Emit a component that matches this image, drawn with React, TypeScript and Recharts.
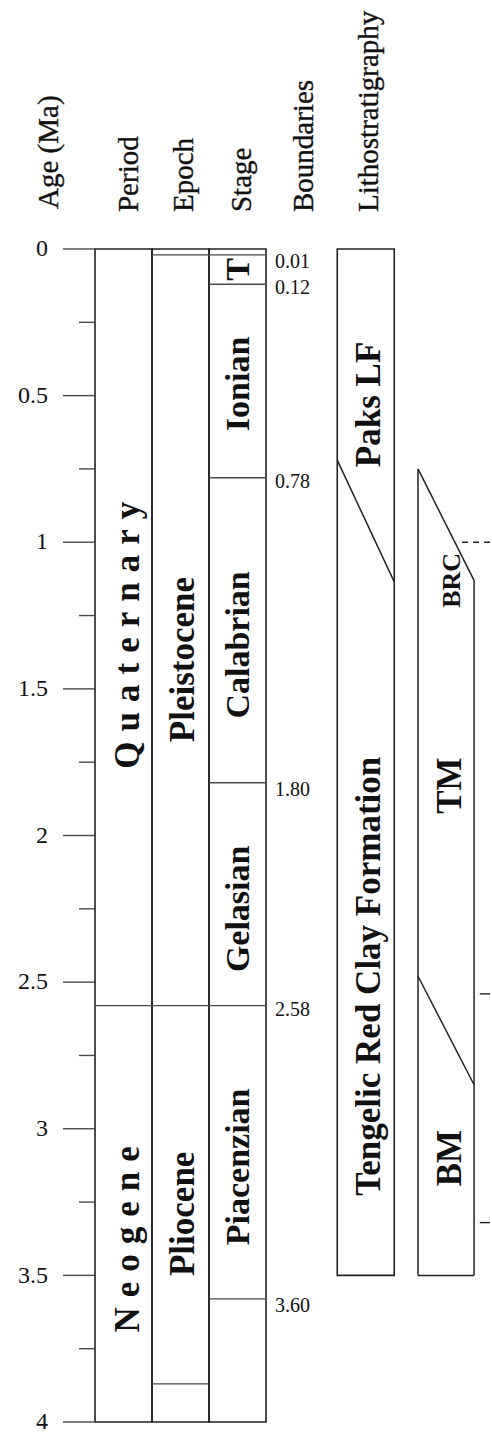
import { ComposedChart, XAxis, YAxis, ReferenceArea, ReferenceLine, Scatter } from 'recharts'

// ages in Ma
const AGE_TICKS = [0, 0.25, 0.5, 0.75, 1, 1.25, 1.5, 1.75, 2, 2.25, 2.5, 2.75, 3, 3.25, 3.5, 3.75, 4]

const PERIODS = ['Quaternary', 'Neogene']
const PERIOD_MID = [1.3, 3.36]
const PERIOD_BOUNDS = [2.58]

const EPOCHS = ['Pleistocene', 'Pliocene']
const EPOCH_MID = [1.4, 3.29]
const EPOCH_BOUNDS = [0.02, 2.58, 3.87]

const STAGES = ['T', 'Ionian', 'Calabrian', 'Gelasian', 'Piacenzian']
const STAGE_MID = [0.07, 0.46, 1.35, 2.25, 3.13]
const STAGE_BOUNDS = [0.02, 0.12, 0.78, 1.82, 2.58, 3.58]

const BOUNDARY_TEXT = ['0.01', '0.12', '0.78', '1.80', '2.58', '3.60']
const BOUNDARY_AT = [0.04, 0.13, 0.79, 1.84, 2.59, 3.6]

const FORMATIONS = ['Paks LF', 'Tengelic Red Clay Formation']
const FORMATION_MID = [0.53, 2.48]
const FORMATION_CONTACT = [0.72, 1.135] // age at left edge, age at right edge
const LITHO_BASE = 3.5

const MEMBERS = ['BRC', 'TM', 'BM']
const MEMBER_MID = [1.13, 1.83, 3.1]
const MEMBER_TOP = [0.75, 1.13]
const MEMBER_CONTACT = [2.48, 2.85]

const DASH_AT = 1.0
const MARK_AT = [2.54, 3.32]

const HEADERS = ['Period', 'Epoch', 'Stage', 'Boundaries', 'Lithostratigraphy']

// layout (column units on the hidden x axis)
const W = 492
const H = 1432
const X_MAX = 6.95
const COL = {
  period: [0, 1],
  epoch: [1, 2],
  stage: [2, 3],
  litho: [4.25, 5.25],
  member: [5.667, 6.65],
}
const HEADER_X = [0.58, 1.54, 2.56, 3.65, 4.79]
const BOUNDARY_X = 3.16

const FONT = "'Liberation Serif', 'Times New Roman', serif"
const INK = '#111'
const LINE = '#222'
const THIN = '#4a4a4a'

const HeaderTick = (props: any) => {
  const { x, y, payload } = props
  const i = HEADER_X.indexOf(payload.value)
  const ty = y - 37
  return (
    <text x={x} y={ty} transform={`rotate(-90 ${x} ${ty})`} dy="0.35em" textAnchor="start"
      fontFamily={FONT} fontSize={29} fill={INK} stroke={INK} strokeWidth={0.35}>
      {HEADERS[i]}
    </text>
  )
}

const AgeTick = (props: any) => {
  const { x, y, payload } = props
  const v = payload.value
  const major = Math.abs(v * 2 - Math.round(v * 2)) < 1e-6
  return (
    <g>
      <line x1={x - (major ? 32 : 16)} x2={x} y1={y} y2={y} stroke={THIN} strokeWidth={1.4} />
      {major && (
        <text x={x - 47} y={y} dy="0.3em" textAnchor="end" fontFamily={FONT} fontSize={24} fill={INK}>
          {v}
        </text>
      )}
    </g>
  )
}

const AgeLabel = (props: any) => {
  const vb = props.viewBox
  const x = vb.x + 48
  const y = vb.y - 40
  return (
    <text x={x} y={y} transform={`rotate(-90 ${x} ${y})`} dy="0.35em" textAnchor="start"
      fontFamily={FONT} fontSize={29} fill={INK} stroke={INK} strokeWidth={0.35}>
      Age (Ma)
    </text>
  )
}

// rotated unit names
const vLabel = (size: number, spacing = 0) => (props: any) => {
  const { cx, cy, payload } = props
  return (
    <text x={cx} y={cy} transform={`rotate(-90 ${cx} ${cy})`} dy="0.35em" textAnchor="middle"
      fontFamily={FONT} fontSize={size} fontWeight="bold" letterSpacing={spacing} fill={INK}>
      {payload.t}
    </text>
  )
}

const hLabel = (props: any) => {
  const { cx, cy, payload } = props
  return (
    <text x={cx} y={cy} dy="0.35em" textAnchor="start" fontFamily={FONT} fontSize={20} fill={INK}>
      {payload.t}
    </text>
  )
}

const mid = (c: number[]) => (c[0] + c[1]) / 2

const periodPts = PERIODS.map((t, i) => ({ x: mid(COL.period) + 0.05, y: PERIOD_MID[i], t }))
const epochPts = EPOCHS.map((t, i) => ({ x: mid(COL.epoch) + 0.02, y: EPOCH_MID[i], t }))
const stagePts = STAGES.map((t, i) => ({ x: mid(COL.stage), y: STAGE_MID[i], t }))
const formationPts = FORMATIONS.map((t, i) => ({ x: mid(COL.litho) + 0.04, y: FORMATION_MID[i], t }))
const memberPts = MEMBERS.slice(1).map((t, i) => ({ x: mid(COL.member) + 0.04, y: MEMBER_MID[i + 1], t }))
const brcPts = [{ x: mid(COL.member) + 0.08, y: MEMBER_MID[0], t: MEMBERS[0] }]
const boundaryPts = BOUNDARY_TEXT.map((t, i) => ({ x: BOUNDARY_X, y: BOUNDARY_AT[i], t }))

const hLine = (key: string, x1: number, x2: number, age: number, color = THIN, dash?: string) => (
  <ReferenceLine key={key} segment={[{ x: x1, y: age }, { x: x2, y: age }]}
    stroke={color} strokeWidth={1.4} strokeDasharray={dash} ifOverflow="visible" />
)

const seg = (key: string, x1: number, y1: number, x2: number, y2: number) => (
  <ReferenceLine key={key} segment={[{ x: x1, y: y1 }, { x: x2, y: y2 }]}
    stroke={LINE} strokeWidth={1.5} ifOverflow="visible" />
)

export default function App() {
  return (
    <div style={{ position: 'absolute', left: 0, top: 0, width: W, height: H, background: '#fff' }}>
      <ComposedChart width={W} height={H} margin={{ top: 0, right: W - 95 - 57 * X_MAX, left: 0, bottom: 10 }}>
        <XAxis xAxisId={0} type="number" dataKey="x" orientation="top" domain={[0, X_MAX]} height={249}
          ticks={HEADER_X} interval={0} tick={HeaderTick} axisLine={false} tickLine={false}
          tickSize={0} tickMargin={0} allowDataOverflow />
        <YAxis yAxisId={0} type="number" dataKey="y" domain={[0, 4]} reversed width={95}
          ticks={AGE_TICKS} interval={0} tick={AgeTick} axisLine={false} tickLine={false}
          tickSize={0} tickMargin={0} allowDataOverflow label={{ content: AgeLabel }} />

        {/* chronostratigraphic columns */}
        {[COL.period, COL.epoch, COL.stage].map((c, i) => (
          <ReferenceArea key={'col' + i} x1={c[0]} x2={c[1]} y1={0} y2={4}
            stroke={LINE} strokeWidth={1.6} fill="none" fillOpacity={0} ifOverflow="visible" />
        ))}
        {PERIOD_BOUNDS.map((a, i) => hLine('pb' + i, COL.period[0], COL.period[1], a))}
        {EPOCH_BOUNDS.map((a, i) => hLine('eb' + i, COL.epoch[0], COL.epoch[1], a))}
        {STAGE_BOUNDS.map((a, i) => hLine('sb' + i, COL.stage[0], COL.stage[1], a))}

        {/* formations */}
        <ReferenceArea x1={COL.litho[0]} x2={COL.litho[1]} y1={0} y2={LITHO_BASE}
          stroke={LINE} strokeWidth={1.6} fill="none" fillOpacity={0} ifOverflow="visible" />
        {seg('fc', COL.litho[0], FORMATION_CONTACT[0], COL.litho[1], FORMATION_CONTACT[1])}

        {/* members */}
        {seg('mt', COL.member[0], MEMBER_TOP[0], COL.member[1], MEMBER_TOP[1])}
        {seg('ml', COL.member[0], MEMBER_TOP[0], COL.member[0], LITHO_BASE)}
        {seg('mr', COL.member[1], MEMBER_TOP[1], COL.member[1], LITHO_BASE)}
        {seg('mb', COL.member[0], LITHO_BASE, COL.member[1], LITHO_BASE)}
        {seg('mc', COL.member[0], MEMBER_CONTACT[0], COL.member[1], MEMBER_CONTACT[1])}

        {/* marks at the cut right edge */}
        {hLine('dash', 6.44, X_MAX, DASH_AT, LINE, '6 5')}
        {MARK_AT.map((a, i) => hLine('mk' + i, 6.75, 6.93, a, LINE))}

        <Scatter data={periodPts} shape={vLabel(35, 10)} isAnimationActive={false} />
        <Scatter data={epochPts} shape={vLabel(35)} isAnimationActive={false} />
        <Scatter data={stagePts} shape={vLabel(34)} isAnimationActive={false} />
        <Scatter data={formationPts} shape={vLabel(35)} isAnimationActive={false} />
        <Scatter data={memberPts} shape={vLabel(35)} isAnimationActive={false} />
        <Scatter data={brcPts} shape={vLabel(26)} isAnimationActive={false} />
        <Scatter data={boundaryPts} shape={hLabel} isAnimationActive={false} />
      </ComposedChart>
    </div>
  )
}
